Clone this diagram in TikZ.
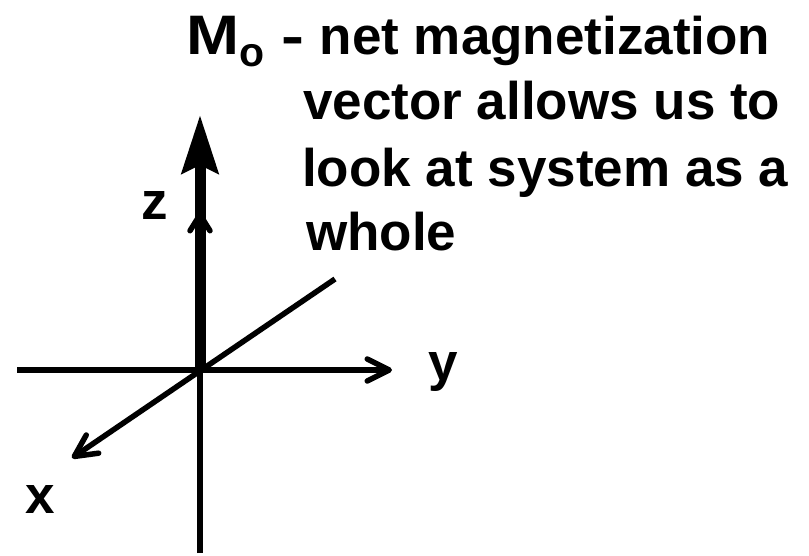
\documentclass[tikz,border=0pt]{standalone}
\usepackage{fontspec}
\setmainfont{Liberation Sans}
\usetikzlibrary{arrows.meta}
\begin{document}
\begin{tikzpicture}[x=1pt,y=-1pt,
  axis/.style={line width=5.5pt},
  barb/.style={-{Straight Barb[length=22pt,width=22pt,round]}},
  smallbarb/.style={-{Straight Barb[length=16pt,width=20pt,round]}},
  vec/.style={line width=11pt,-{Stealth[length=58pt,width=36pt,inset=8pt]}},
  txt/.style={inner sep=0pt,font=\fontsize{53}{64}\selectfont\bfseries},
  lbl/.style={inner sep=0pt,anchor=base,font=\fontsize{53}{64}\selectfont\bfseries}]
\useasboundingbox (0,0) rectangle (809,555);
% coordinates
\coordinate (O) at (200,370);
\coordinate (yL) at (17,370);
\coordinate (yR) at (392,370);
\coordinate (zB) at (200,553);
\coordinate (zT) at (200,212);
\coordinate (xT) at (72,458);
\coordinate (xE) at (335,279);
\coordinate (Mt) at (200,115);
% axes
\draw[axis,smallbarb] (zB) -- (zT);
\draw[vec] (O) -- (Mt);
\draw[axis,barb] (yL) -- (yR);
\draw[axis,barb] (xE) -- (xT);
% axis labels
\node[lbl] (lz) at (155,219) {z};
\node[lbl] (ly) at (443,380) {y};
\node[lbl] (lx) at (40,513) {x};
% text
\node[txt,anchor=base west] (t1) at (186,54) {\scalebox{1.2}[1.05]{M}\hspace{0pt}\raisebox{-12pt}{\fontsize{41}{41}\selectfont o}\hspace{17.6pt}\scalebox{1.3}[1]{-}\hspace{15pt}net magnetization};
\node[txt,anchor=base west] (t2) at (303,119) {vector allows us to};
\node[txt,anchor=base west] (t3) at (302,186) {look at system as a};
\node[txt,anchor=base west] (t4) at (306,250) {whole};
\end{tikzpicture}
\end{document}
